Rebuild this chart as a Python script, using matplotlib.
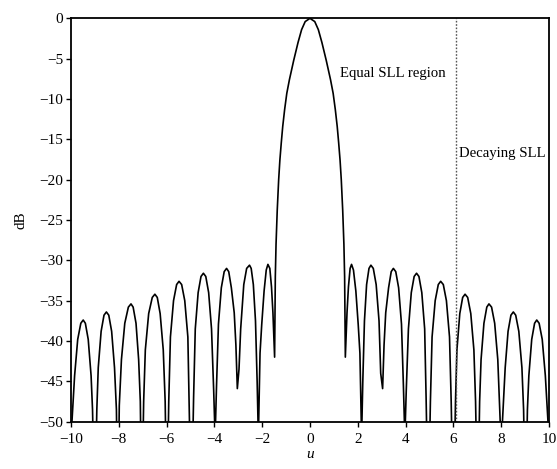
import matplotlib
matplotlib.use("Agg")
import matplotlib.pyplot as plt
import numpy as np

# ---- data (u, dB) ----
left_u = [-10.00, -9.94, -9.85, -9.72, -9.59, -9.49, -9.40, -9.28, -9.16, -9.10, -9.005,
          -8.92, -8.86, -8.74, -8.62, -8.52, -8.42, -8.30, -8.18, -8.10, -8.04,
          -7.98, -7.89, -7.75, -7.60, -7.49, -7.40, -7.28, -7.17, -7.10, -7.04,
          -6.96, -6.89, -6.75, -6.60, -6.49, -6.39, -6.27, -6.14, -6.06, -5.985,
          -5.91, -5.84, -5.71, -5.58, -5.48, -5.37, -5.24, -5.11, -5.06, -4.965,
          -4.87, -4.80, -4.68, -4.56, -4.46, -4.36, -4.24, -4.12, -4.03, -3.97,
          -3.91, -3.83, -3.71, -3.59, -3.49, -3.40, -3.29, -3.17, -3.10, -3.04,
          -2.97, -2.90, -2.77, -2.65, -2.53, -2.46, -2.37, -2.28, -2.21, -2.16,
          -2.09, -2.02, -1.92, -1.83, -1.76, -1.68, -1.61, -1.55]
left_db = [-52.0, -49.0, -44.3, -39.8, -37.8, -37.4, -37.8, -39.8, -44.3, -48.5, -62.0,
           -48.5, -43.3, -38.8, -36.8, -36.4, -36.8, -38.8, -43.3, -48.5, -62.0,
           -48.0, -42.3, -37.8, -35.8, -35.4, -35.8, -37.8, -42.3, -47.5, -62.0,
           -47.5, -41.1, -36.6, -34.6, -34.2, -34.6, -36.6, -41.1, -47.5, -62.0,
           -47.5, -39.5, -35.0, -33.0, -32.6, -33.0, -35.0, -39.5, -47.5, -62.0,
           -47.0, -38.5, -34.0, -32.0, -31.6, -32.0, -34.0, -38.5, -46.1, -52.0,
           -45.5, -37.9, -33.4, -31.4, -31.0, -31.4, -33.4, -36.5, -40.5, -45.9,
           -43.5, -38.5, -33.0, -31.0, -30.6, -31.0, -33.0, -37.5, -45.1, -52.0,
           -41.5, -38.0, -33.8, -31.2, -30.5, -31.0, -33.3, -36.5]

main_u = [-1.48, -1.45, -1.42, -1.37, -1.31, -1.26, -1.20, -1.14, -1.06, -0.97, -0.86,
          -0.68, -0.50, -0.35, -0.20, 0.0,
          0.20, 0.35, 0.50, 0.68,
          0.86, 0.97, 1.06, 1.14, 1.20, 1.26, 1.31, 1.37, 1.42, 1.45, 1.48]
main_db = [-42.0, -32.0, -28.0, -23.8, -20.0, -17.6, -15.4, -13.4, -11.3, -9.3, -7.6,
           -5.2, -3.0, -1.4, -0.4, 0.0,
           -0.4, -1.4, -3.0, -5.2,
           -7.6, -9.3, -11.3, -13.4, -15.4, -17.6, -20.0, -23.8, -28.0, -32.0, -42.0]

right_u = [1.55, 1.61, 1.68, 1.74, 1.82, 1.92, 2.02, 2.09, 2.16,
           2.21, 2.28, 2.37, 2.47, 2.55, 2.65, 2.77, 2.89, 2.96, 3.04,
           3.10, 3.17, 3.29, 3.40, 3.49, 3.59, 3.71, 3.83, 3.91, 3.97,
           4.03, 4.12, 4.24, 4.36, 4.46, 4.56, 4.68, 4.80, 4.86, 4.95,
           5.04, 5.11, 5.24, 5.37, 5.47, 5.58, 5.71, 5.84, 5.91, 6.00,
           6.09, 6.15, 6.27, 6.39, 6.49, 6.60, 6.73, 6.86, 6.93, 7.02,
           7.10, 7.16, 7.28, 7.40, 7.49, 7.60, 7.73, 7.86, 7.96, 8.02,
           8.08, 8.17, 8.29, 8.41, 8.51, 8.61, 8.74, 8.87, 8.94, 9.02,
           9.10, 9.16, 9.28, 9.40, 9.49, 9.59, 9.72, 9.85, 9.94, 10.00]
right_db = [-36.5, -33.3, -31.0, -30.5, -31.2, -33.8, -38.0, -41.5, -52.0,
            -45.1, -37.5, -33.0, -31.0, -30.6, -31.0, -33.0, -37.5, -44.0, -45.9,
            -40.5, -36.5, -33.4, -31.4, -31.0, -31.4, -33.4, -37.9, -45.5, -52.0,
            -46.1, -38.5, -34.0, -32.0, -31.6, -32.0, -34.0, -38.5, -47.0, -62.0,
            -47.5, -39.5, -35.0, -33.0, -32.6, -33.0, -35.0, -39.5, -47.5, -62.0,
            -47.5, -41.1, -36.6, -34.6, -34.2, -34.6, -36.6, -41.1, -47.5, -62.0,
            -47.5, -42.3, -37.8, -35.8, -35.4, -35.8, -37.8, -42.3, -49.9, -52.0,
            -48.5, -43.3, -38.8, -36.8, -36.4, -36.8, -38.8, -43.3, -48.5, -62.0,
            -48.5, -44.3, -39.8, -37.8, -37.4, -37.8, -39.8, -44.3, -49.0, -52.0]

boundary_u = 6.1
xticks = [-10, -8, -6, -4, -2, 0, 2, 4, 6, 8, 10]
yticks = [0, -5, -10, -15, -20, -25, -30, -35, -40, -45, -50]
label_equal = "Equal SLL region"
label_decay = "Decaying SLL"

u = np.array(left_u + main_u + right_u)
db = np.array(left_db + main_db + right_db)

plt.rcParams['font.family'] = ['Liberation Serif', 'DejaVu Serif']
plt.rcParams['mathtext.fontset'] = 'stix'

fig = plt.figure(figsize=(5.57, 4.69), dpi=100)
ax = fig.add_axes([0.1275, 0.1009, 0.858, 0.860])

ax.plot(u, db, color='black', linewidth=1.2)
ax.axvline(boundary_u, color='#555555', linestyle=(0, (1.2, 1.2)), linewidth=1.0)

ax.set_xlim(-10, 10)
ax.set_ylim(-50, 0)
ax.set_xticks(xticks)
ax.set_yticks(yticks)
ax.set_xticklabels([f"{t:d}".replace('-', '\u2212') for t in xticks])
ax.set_yticklabels([f"{t:d}".replace('-', '\u2212') for t in yticks])
ax.tick_params(direction='out', length=3.5, width=1.0, labelsize=11)
ax.tick_params(axis='x', pad=5)
ax.tick_params(axis='y', pad=2)
for s in ax.spines.values():
    s.set_linewidth(1.3)

ax.set_ylabel("dB", fontsize=11, labelpad=9)
ax.set_xlabel("u", fontsize=11, style='italic', labelpad=1)

ax.text(1.26, -6.8, label_equal, fontsize=10.6, va='center', ha='left')
ax.text(6.25, -16.7, label_decay, fontsize=10.6, va='center', ha='left')

fig.savefig("out.png", dpi=100)
